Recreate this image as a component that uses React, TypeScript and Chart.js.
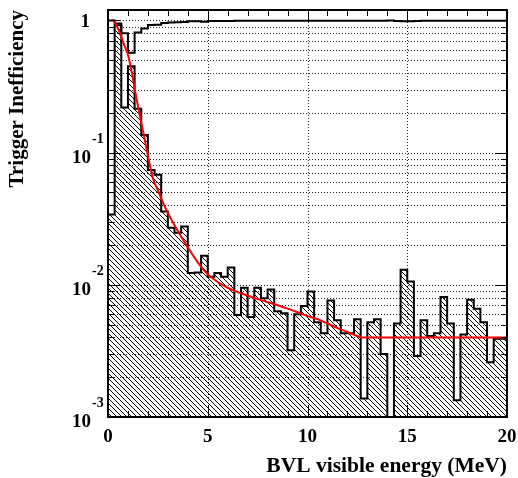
import React, { useEffect, useRef } from 'react';
import { Chart, registerables } from 'chart.js';

Chart.register(...registerables);

// ---------- data ----------
const X_MIN = 0;
const X_MAX = 20;
const N_BINS = 60;
const Y_MIN = 0.001;
const Y_MAX = 1.2;

// hatched histogram: trigger inefficiency per 1/3 MeV bin (0 = empty bin)
const inefficiency = [
  0.034, 0.92, 0.22, 0.45, 0.215, 0.136, 0.074, 0.068, 0.0358, 0.027,
  0.0248, 0.0276, 0.0123, 0.0124, 0.0166, 0.0115, 0.0123, 0.0115, 0.0135, 0.0059,
  0.0095, 0.0057, 0.0095, 0.0079, 0.0092, 0.0063, 0.0061, 0.0032, 0.006, 0.0069,
  0.0089, 0.0052, 0.0043, 0.0076, 0.0054, 0.0043, 0.0043, 0.0055, 0.00138, 0.0052,
  0.0055, 0.003, 0, 0.0051, 0.013, 0.0106, 0.0029, 0.0054, 0.0041, 0.0043,
  0.0081, 0.0051, 0.00134, 0.0042, 0.0077, 0.0066, 0.0052, 0.0026, 0.0039, 0.0039,
];

// open histogram near 1
const upperHist = [
  1.0, 0.95, 0.8, 0.57, 0.81, 0.87, 0.925, 0.93, 0.955, 0.965,
  0.97, 0.972, 0.985, 0.985, 0.98, 0.99, 0.99, 0.99, 0.99, 0.993,
  0.993, 0.993, 0.993, 0.993, 0.993, 0.995, 0.995, 0.995, 0.995, 0.995,
  0.995, 0.995, 0.995, 0.995, 0.995, 0.995, 0.995, 0.995, 0.997, 0.995,
  0.995, 0.997, 1.0, 0.99, 0.987, 0.987, 0.99, 0.995, 0.995, 0.995,
  0.995, 0.995, 0.997, 0.995, 0.995, 0.995, 0.995, 0.997, 0.995, 0.995,
];

// fitted curve (energy, value)
const fitE = [
  0.22, 0.4, 0.6, 0.8, 1.0, 1.2, 1.4, 1.6, 1.8, 2.0,
  2.25, 2.5, 2.75, 3.0, 3.5, 4.0, 4.5, 5.0, 5.5, 6.0,
  6.5, 7.0, 7.5, 8.0, 8.5, 9.0, 9.5, 10.0, 10.5, 11.0,
  11.5, 12.0, 12.5, 12.75, 20.0,
];
const fitV = [
  1.02, 0.93, 0.8, 0.66, 0.55, 0.4, 0.27, 0.19, 0.135, 0.095,
  0.064, 0.052, 0.042, 0.035, 0.0255, 0.0192, 0.0148, 0.012, 0.0105, 0.0095,
  0.0088, 0.0083, 0.0078, 0.0074, 0.007, 0.0066, 0.0062, 0.0058, 0.0055, 0.0051,
  0.0047, 0.0044, 0.0041, 0.004, 0.004,
];

// axes
const xMajorTicks = [0, 5, 10, 15, 20];
const xTickLabels = ['0', '5', '10', '15', '20'];
const xGridLines = [5, 10, 15];
const yDecades = [0.001, 0.01, 0.1, 1];
const yExponents = ['-3', '-2', '-1', ''];
const xTitle = 'BVL visible energy (MeV)';
const yTitle = 'Trigger Inefficiency';

const FONT = '"Liberation Serif", "Times New Roman", serif';

function histPoints(vals: number[]) {
  const w = (X_MAX - X_MIN) / N_BINS;
  const pts = vals.map((v, i) => ({ x: X_MIN + i * w, y: v > 0 ? v : 1e-6 }));
  const last = vals[vals.length - 1];
  pts.push({ x: X_MAX, y: last > 0 ? last : 1e-6 });
  return pts;
}

function makeHatch(): CanvasPattern | string {
  const s = 5;
  const c = document.createElement('canvas');
  c.width = s;
  c.height = s;
  const g = c.getContext('2d');
  if (!g) return 'rgba(0,0,0,0.3)';
  g.fillStyle = '#000';
  for (let i = 0; i < s; i++) g.fillRect(i, i, 1, 1);
  return g.createPattern(c, 'repeat') || 'rgba(0,0,0,0.3)';
}

const rootAxes = {
  id: 'rootAxes',
  beforeDatasetsDraw(chart: any) {
    const { ctx, chartArea: a, scales } = chart;
    const xs = scales.x;
    const ys = scales.y;
    ctx.save();
    ctx.strokeStyle = '#222';
    ctx.lineWidth = 1;
    ctx.setLineDash([1, 2]);
    ctx.beginPath();
    for (const v of xGridLines) {
      const px = Math.round(xs.getPixelForValue(v)) + 0.5;
      ctx.moveTo(px, a.top);
      ctx.lineTo(px, a.bottom);
    }
    for (const d of yDecades) {
      for (let k = 1; k <= 9; k++) {
        const v = d * k;
        if (v <= Y_MIN * 1.0001 || v >= Y_MAX) continue;
        const py = Math.round(ys.getPixelForValue(v)) + 0.5;
        ctx.moveTo(a.left, py);
        ctx.lineTo(a.right, py);
      }
    }
    ctx.stroke();
    ctx.restore();
  },
  afterDatasetsDraw(chart: any) {
    const { ctx, chartArea: a, scales } = chart;
    const xs = scales.x;
    const ys = scales.y;
    ctx.save();
    ctx.strokeStyle = '#000';
    ctx.lineWidth = 1;
    ctx.beginPath();
    // x ticks (every 1 MeV minor, 5 MeV major), bottom and top
    for (let v = X_MIN; v <= X_MAX; v += 1) {
      const major = xMajorTicks.includes(v);
      const len = major ? 12 : 6;
      const px = Math.round(xs.getPixelForValue(v)) + 0.5;
      ctx.moveTo(px, a.bottom);
      ctx.lineTo(px, a.bottom - len);
      ctx.moveTo(px, a.top);
      ctx.lineTo(px, a.top + len);
    }
    // y ticks
    for (const d of yDecades) {
      for (let k = 1; k <= 9; k++) {
        const v = d * k;
        if (v < Y_MIN * 0.9999 || v > Y_MAX) continue;
        const len = k === 1 ? 12 : 6;
        const py = Math.round(ys.getPixelForValue(v)) + 0.5;
        ctx.moveTo(a.left, py);
        ctx.lineTo(a.left + len, py);
        ctx.moveTo(a.right, py);
        ctx.lineTo(a.right - len, py);
      }
    }
    ctx.stroke();
    // frame
    ctx.lineWidth = 2;
    ctx.strokeRect(a.left, a.top, a.right - a.left, a.bottom - a.top);

    // x tick labels
    ctx.fillStyle = '#000';
    ctx.font = `bold 19px ${FONT}`;
    ctx.textAlign = 'center';
    ctx.textBaseline = 'alphabetic';
    xMajorTicks.forEach((v, i) => {
      ctx.fillText(xTickLabels[i], xs.getPixelForValue(v), a.bottom + 25);
    });

    // y tick labels (10^n)
    yDecades.forEach((v, i) => {
      const py = ys.getPixelForValue(v);
      const exp = yExponents[i];
      if (exp === '') {
        ctx.font = `bold 19px ${FONT}`;
        ctx.textAlign = 'right';
        ctx.fillText('1', a.left - 18, py + 7);
      } else {
        ctx.font = `bold 19px ${FONT}`;
        ctx.textAlign = 'right';
        ctx.fillText('10', a.left - 17, py + 10);
        ctx.font = `bold 14px ${FONT}`;
        ctx.textAlign = 'left';
        ctx.fillText(exp, a.left - 16, py - 10);
      }
    });

    // axis titles
    ctx.font = `bold 21.5px ${FONT}`;
    ctx.textAlign = 'right';
    ctx.textBaseline = 'alphabetic';
    ctx.fillText(xTitle, a.right, a.bottom + 55);

    ctx.save();
    ctx.translate(23, a.top);
    ctx.rotate(-Math.PI / 2);
    ctx.textAlign = 'right';
    ctx.font = `bold 21px ${FONT}`;
    ctx.fillText(yTitle, 0, 0);
    ctx.restore();

    ctx.restore();
  },
};

export default function App() {
  const ref = useRef<HTMLCanvasElement | null>(null);

  useEffect(() => {
    document.body.style.margin = '0';
    const canvas = ref.current;
    if (!canvas) return;
    const hatch = makeHatch();
    const chart = new Chart(canvas, {
      type: 'line',
      data: {
        datasets: [
          {
            label: 'fit',
            data: fitE.map((e, i) => ({ x: e, y: fitV[i] })),
            borderColor: '#ff0000',
            borderWidth: 2,
            pointRadius: 0,
            fill: false,
            cubicInterpolationMode: 'monotone',
          },
          {
            label: 'upper',
            data: histPoints(upperHist),
            borderColor: '#000',
            borderWidth: 2,
            pointRadius: 0,
            fill: false,
            stepped: 'before',
            borderJoinStyle: 'miter',
          },
          {
            label: 'inefficiency',
            data: histPoints(inefficiency),
            borderColor: '#000',
            borderWidth: 2,
            pointRadius: 0,
            fill: 'start',
            backgroundColor: hatch as any,
            stepped: 'before',
            borderJoinStyle: 'miter',
          },
        ],
      },
      options: {
        animation: false,
        responsive: false,
        maintainAspectRatio: false,
        layout: { padding: { left: 108, top: 10, right: 11, bottom: 61 } },
        plugins: { legend: { display: false }, tooltip: { enabled: false } },
        scales: {
          x: { type: 'linear', min: X_MIN, max: X_MAX, bounds: 'data', display: false },
          y: { type: 'logarithmic', min: Y_MIN, max: Y_MAX, bounds: 'data', display: false },
        },
      },
      plugins: [rootAxes],
    });
    return () => chart.destroy();
  }, []);

  return <canvas ref={ref} width={518} height={478} style={{ display: 'block' }} />;
}
